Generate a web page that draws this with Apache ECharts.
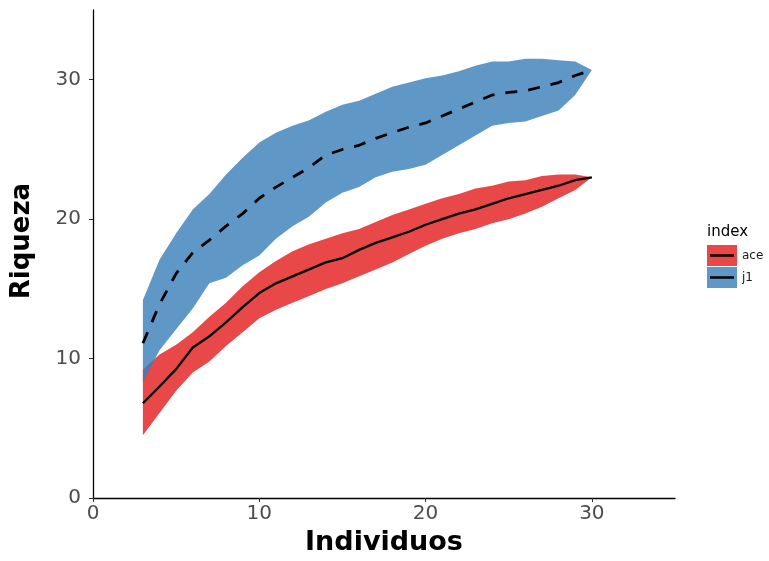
<!DOCTYPE html>
<html>
<head>
<meta charset="utf-8">
<script src="https://cdn.jsdelivr.net/npm/echarts@6/dist/echarts.min.js"></script>
<style>html,body{margin:0;padding:0;background:#fff;}#c{width:769px;height:561px;}</style>
</head>
<body>
<div id="c"></div>
<script>
// Individuals (x)
var individuos = [3,4,5,6,7,8,9,10,11,12,13,14,15,16,17,18,19,20,21,22,23,24,25,26,27,28,29,30];
// ace estimator
var aceMean  = [6.8,8.0,9.25,10.8,11.6,12.6,13.7,14.7,15.4,15.9,16.4,16.9,17.2,17.8,18.3,18.7,19.1,19.6,20.0,20.4,20.7,21.1,21.5,21.8,22.1,22.4,22.8,23.0];
var aceUpper = [9.2,10.3,11.0,11.9,13.0,14.0,15.2,16.2,17.0,17.7,18.2,18.6,19.0,19.3,19.8,20.3,20.7,21.1,21.5,21.8,22.2,22.4,22.7,22.8,23.1,23.2,23.2,23.0];
var aceLower = [4.5,6.1,7.7,9.0,9.8,10.9,11.9,12.9,13.5,14.0,14.5,15.0,15.4,15.9,16.4,16.9,17.5,18.1,18.6,19.0,19.3,19.7,20.0,20.4,20.9,21.5,22.1,23.0];
// j1 (jackknife 1) estimator
var j1Mean  = [11.1,13.9,16.1,17.6,18.5,19.5,20.4,21.5,22.3,23.0,23.7,24.6,25.0,25.3,25.8,26.2,26.6,26.9,27.4,27.9,28.4,28.9,29.1,29.2,29.5,29.8,30.3,30.7];
var j1Upper = [14.2,17.1,19.0,20.7,21.8,23.2,24.4,25.5,26.2,26.7,27.1,27.7,28.2,28.5,29.0,29.5,29.8,30.1,30.3,30.6,31.0,31.3,31.3,31.5,31.5,31.4,31.3,30.7];
var j1Lower = [8.3,10.6,12.1,13.6,15.4,15.8,16.7,17.4,18.6,19.5,20.2,21.2,21.9,22.3,23.0,23.4,23.6,23.9,24.6,25.3,26.0,26.7,26.9,27.0,27.4,27.8,28.9,30.7];
// Axis ticks
var xTicks = [0,10,20,30];
var yTicks = [0,10,20,30];
var seriesNames = ['ace','j1'];

var redFill = 'rgba(228,26,28,0.8)';
var blueFill = 'rgba(55,126,184,0.8)';

function pairs(xs, ys){ return xs.map(function(x,i){ return [x, ys[i]]; }); }
function triples(xs, lo, hi){ return xs.map(function(x,i){ return [x, lo[i], hi[i]]; }); }

function band(name, lo, hi, color){
  return {
    name: name, type:'custom', silent:true, z:1,
    itemStyle:{color: color},
    data: triples(individuos, lo, hi),
    encode:{x:0, y:[1,2]},
    renderItem: function(params, api){
      if (params.dataIndex !== 0) return null;
      var pts = [];
      for (var i = 0; i < individuos.length; i++) pts.push(api.coord([individuos[i], hi[i]]));
      for (var j = individuos.length - 1; j >= 0; j--) pts.push(api.coord([individuos[j], lo[j]]));
      return {type:'polygon', shape:{points: pts}, style:{fill: color, stroke:null}};
    }
  };
}

var chart = echarts.init(document.getElementById('c'), null, {renderer:'canvas'});
var font = 'DejaVu Sans';
chart.setOption({
  animation:false,
  backgroundColor:'#fff',
  title:{text:'index', left:702, top:220, textStyle:{fontFamily:font, fontSize:15, fontWeight:'normal', color:'#000'}},
  legend:[
    {left:702, top:240, orient:'vertical', itemWidth:30, itemHeight:21, itemGap:1, selectedMode:false,
     data:[{name:seriesNames[0], icon:'rect', itemStyle:{color:redFill, borderWidth:0}},
           {name:seriesNames[1], icon:'rect', itemStyle:{color:blueFill, borderWidth:0}}],
     textStyle:{fontFamily:font, fontSize:12, color:'#1a1a1a'}},
    {left:705, top:240, orient:'vertical', itemWidth:24, itemHeight:2.5, itemGap:1, selectedMode:false,
     data:[{name:seriesNames[0], icon:'rect', itemStyle:{color:'#000', borderWidth:0}},
           {name:seriesNames[1], icon:'rect', itemStyle:{color:'#000', borderWidth:0}}],
     textStyle:{fontFamily:font, fontSize:12, color:'rgba(0,0,0,0)', lineHeight:21}}
  ],
  grid:{left:93, right:94, top:10, bottom:55, containLabel:false},
  xAxis:{type:'value', min:0, max:35, interval:10,
    name:'Individuos', nameLocation:'middle', nameGap:27,
    nameTextStyle:{fontFamily:font, fontSize:27, fontWeight:'bold', color:'#000'},
    axisLine:{show:true, onZero:false, lineStyle:{color:'#000', width:1.3}},
    axisTick:{show:true, length:4, lineStyle:{color:'#333', width:1}, customValues: xTicks},
    axisLabel:{fontFamily:font, fontSize:20, color:'#4D4D4D', margin:6, customValues: xTicks},
    splitLine:{show:false}},
  yAxis:{type:'value', min:0, max:35, interval:10,
    name:'Riqueza', nameLocation:'middle', nameGap:58, nameRotate:90,
    nameTextStyle:{fontFamily:font, fontSize:26, fontWeight:'bold', color:'#000', padding:[0,0,0,26]},
    axisLine:{show:true, onZero:false, lineStyle:{color:'#000', width:1.3}},
    axisTick:{show:true, length:4, lineStyle:{color:'#333', width:1}, customValues: yTicks},
    axisLabel:{fontFamily:font, fontSize:20, color:'#4D4D4D', margin:12, customValues: yTicks},
    splitLine:{show:false}},
  series:[
    band(seriesNames[0], aceLower, aceUpper, redFill),
    band(seriesNames[1], j1Lower, j1Upper, blueFill),
    {name:seriesNames[0], type:'line', data: pairs(individuos, aceMean), symbol:'none',
      lineStyle:{color:'#000', width:2.3}, itemStyle:{color:'#000'}, z:3},
    {name:seriesNames[1], type:'line', data: pairs(individuos, j1Mean), symbol:'none',
      lineStyle:{color:'#000', width:2.8, type:[12,11]}, itemStyle:{color:'#000'}, z:3}
  ]
});
</script>
</body>
</html>
